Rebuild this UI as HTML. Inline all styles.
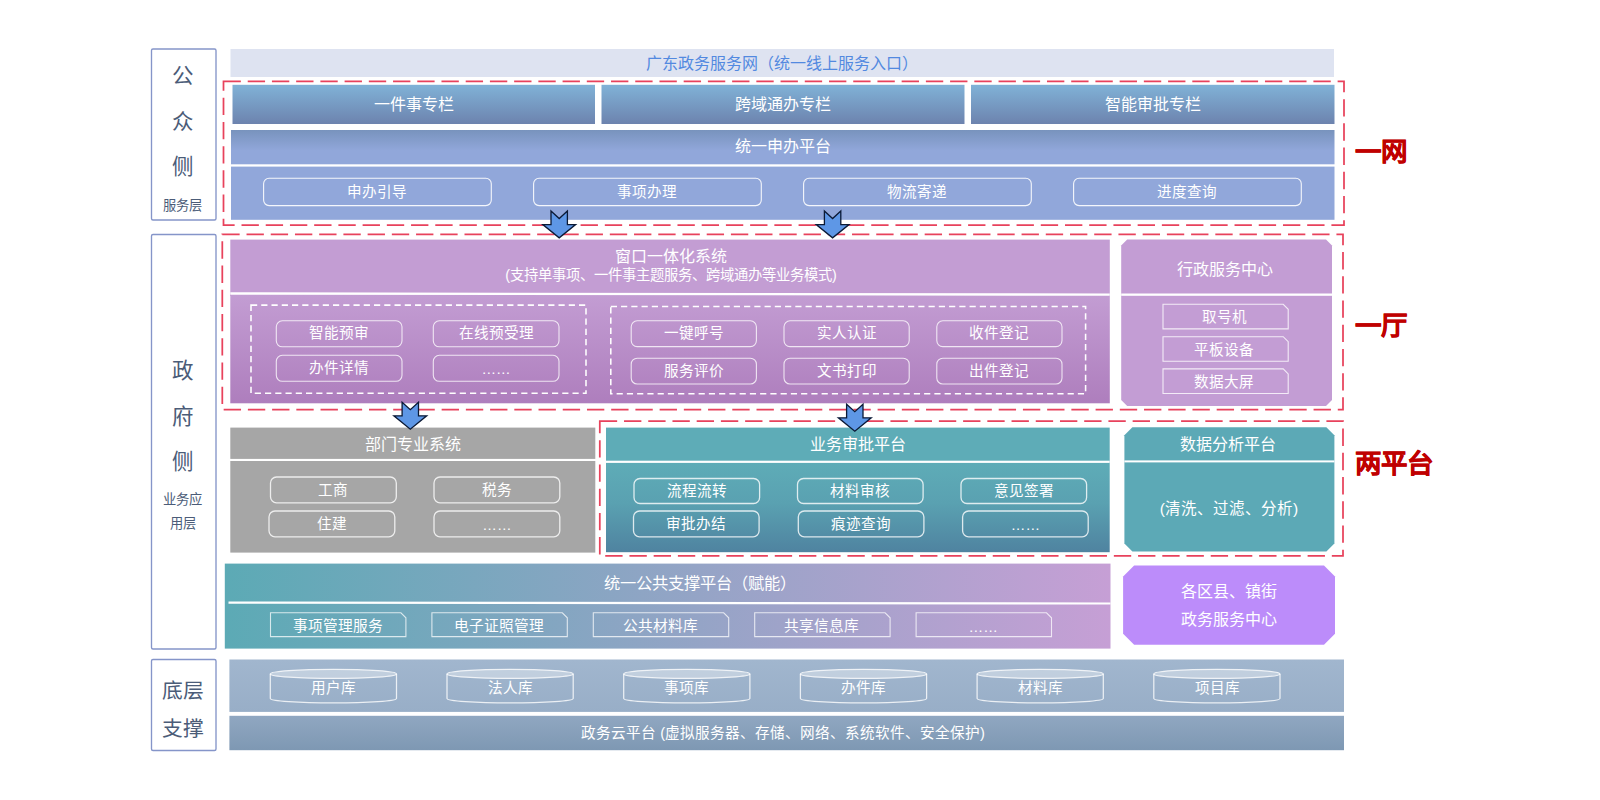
<!DOCTYPE html>
<html lang="zh-CN"><head><meta charset="utf-8"><title>架构图</title>
<style>
html,body{margin:0;padding:0;background:#fff;}
body{width:1600px;height:800px;position:relative;overflow:hidden;font-family:"Liberation Sans",sans-serif;}
.t{position:absolute;white-space:nowrap;}
</style></head><body>
<svg width="1600" height="800" viewBox="0 0 1600 800" style="position:absolute;left:0;top:0">
<defs>
<linearGradient id="gTop" x1="0" y1="0" x2="0" y2="1"><stop offset="0" stop-color="#80B2D7"/><stop offset="1" stop-color="#6D83AE"/></linearGradient>
<linearGradient id="gBar2" x1="0" y1="0" x2="0" y2="1"><stop offset="0" stop-color="#7893BD"/><stop offset="0.6" stop-color="#91A7DA"/><stop offset="1" stop-color="#91A7DA"/></linearGradient>
<linearGradient id="gPur" x1="0" y1="0" x2="0" y2="1"><stop offset="0" stop-color="#C39DD3"/><stop offset="1" stop-color="#AE7EBD"/></linearGradient>
<linearGradient id="gTeal" x1="0" y1="0" x2="0" y2="1"><stop offset="0" stop-color="#5EACB7"/><stop offset="0.45" stop-color="#5AA1B1"/><stop offset="1" stop-color="#4F83A0"/></linearGradient>
<linearGradient id="gSup" x1="0" y1="0" x2="1" y2="0"><stop offset="0" stop-color="#5CAAB5"/><stop offset="1" stop-color="#C69FD5"/></linearGradient>
<linearGradient id="gB1" x1="0" y1="0" x2="0" y2="1"><stop offset="0" stop-color="#A1B6CE"/><stop offset="1" stop-color="#98AEC7"/></linearGradient>
<linearGradient id="gB2" x1="0" y1="0" x2="0" y2="1"><stop offset="0" stop-color="#90A7C1"/><stop offset="1" stop-color="#7E98B3"/></linearGradient>
</defs>
<rect x="151.5" y="49" width="64.5" height="171" rx="1.5" fill="#fff" stroke="#8595C9" stroke-width="1.35"/>
<rect x="151.5" y="234.5" width="64.5" height="414.5" rx="1.5" fill="#fff" stroke="#8595C9" stroke-width="1.35"/>
<rect x="151.5" y="659.5" width="64.5" height="91.0" rx="1.5" fill="#fff" stroke="#8595C9" stroke-width="1.35"/>
<rect x="230.5" y="49" width="1103.5" height="28" fill="#DEE3F1"/>
<rect x="232.5" y="84.8" width="362.5" height="39.2" fill="url(#gTop)"/>
<rect x="601.5" y="84.8" width="363.0" height="39.2" fill="url(#gTop)"/>
<rect x="971" y="84.8" width="363.5" height="39.2" fill="url(#gTop)"/>
<rect x="231" y="130" width="1103.5" height="34.30000000000001" fill="url(#gBar2)"/>
<rect x="231" y="166.6" width="1103.5" height="53.20000000000002" fill="#91A7DA"/>
<rect x="263.6" y="178.2" width="227.7" height="27.400000000000006" rx="5.5" ry="5.5" fill="none" stroke="#fff" stroke-width="1.1" stroke-opacity="0.9"/>
<rect x="533.6" y="178.2" width="227.69999999999993" height="27.400000000000006" rx="5.5" ry="5.5" fill="none" stroke="#fff" stroke-width="1.1" stroke-opacity="0.9"/>
<rect x="803.6" y="178.2" width="227.69999999999993" height="27.400000000000006" rx="5.5" ry="5.5" fill="none" stroke="#fff" stroke-width="1.1" stroke-opacity="0.9"/>
<rect x="1073.6" y="178.2" width="227.70000000000005" height="27.400000000000006" rx="5.5" ry="5.5" fill="none" stroke="#fff" stroke-width="1.1" stroke-opacity="0.9"/>
<rect x="230.3" y="239.6" width="879.5" height="56.400000000000006" fill="#C39DD3"/>
<rect x="230.3" y="294" width="879.5" height="109.30000000000001" fill="url(#gPur)"/>
<polygon points="230.3,292.3 1109.8,293.4 1109.8,295.8 230.3,294.7" fill="#fff"/>
<rect x="251" y="305.1" width="335" height="88.19999999999999" fill="none" stroke="#fff" stroke-width="1.55" stroke-dasharray="6.2 4.05" stroke-dashoffset="0"/>
<rect x="610.8" y="306.4" width="474.79999999999995" height="87.40000000000003" fill="none" stroke="#fff" stroke-width="1.55" stroke-dasharray="6.2 4.05" stroke-dashoffset="0"/>
<rect x="276.3" y="320.8" width="125.69999999999999" height="26.0" rx="6" ry="6" fill="none" stroke="#fff" stroke-width="1.1" stroke-opacity="0.78"/>
<rect x="433.3" y="320.8" width="125.69999999999999" height="26.0" rx="6" ry="6" fill="none" stroke="#fff" stroke-width="1.1" stroke-opacity="0.78"/>
<rect x="276.3" y="355.3" width="125.69999999999999" height="26.0" rx="6" ry="6" fill="none" stroke="#fff" stroke-width="1.1" stroke-opacity="0.78"/>
<rect x="433.3" y="355.3" width="125.69999999999999" height="26.0" rx="6" ry="6" fill="none" stroke="#fff" stroke-width="1.1" stroke-opacity="0.78"/>
<rect x="631.2" y="320.8" width="125.20000000000005" height="25.80000000000001" rx="6" ry="6" fill="none" stroke="#fff" stroke-width="1.1" stroke-opacity="0.78"/>
<rect x="784.0" y="320.8" width="125.20000000000005" height="25.80000000000001" rx="6" ry="6" fill="none" stroke="#fff" stroke-width="1.1" stroke-opacity="0.78"/>
<rect x="936.8000000000001" y="320.8" width="125.19999999999993" height="25.80000000000001" rx="6" ry="6" fill="none" stroke="#fff" stroke-width="1.1" stroke-opacity="0.78"/>
<rect x="631.2" y="358.2" width="125.20000000000005" height="25.80000000000001" rx="6" ry="6" fill="none" stroke="#fff" stroke-width="1.1" stroke-opacity="0.78"/>
<rect x="784.0" y="358.2" width="125.20000000000005" height="25.80000000000001" rx="6" ry="6" fill="none" stroke="#fff" stroke-width="1.1" stroke-opacity="0.78"/>
<rect x="936.8000000000001" y="358.2" width="125.19999999999993" height="25.80000000000001" rx="6" ry="6" fill="none" stroke="#fff" stroke-width="1.1" stroke-opacity="0.78"/>
<polygon points="1127.2,239.6 1326,239.6 1332,245.6 1332,400.1 1326,406.1 1127.2,406.1 1121.2,400.1 1121.2,245.6" fill="#C39DD4"/>
<rect x="1121.2" y="293.5" width="210.79999999999995" height="2.3000000000000114" fill="#fff"/>
<polygon points="1163,304.3 1283.2,304.3 1288.2,309.3 1288.2,328.90000000000003 1163,328.90000000000003" fill="none" stroke="#fff" stroke-width="1.1" stroke-opacity="0.8"/>
<polygon points="1163,336.7 1283.2,336.7 1288.2,341.7 1288.2,361.3 1163,361.3" fill="none" stroke="#fff" stroke-width="1.1" stroke-opacity="0.8"/>
<polygon points="1163,368.9 1283.2,368.9 1288.2,373.9 1288.2,393.5 1163,393.5" fill="none" stroke="#fff" stroke-width="1.1" stroke-opacity="0.8"/>
<rect x="230.3" y="427.6" width="364.99999999999994" height="31.299999999999955" fill="#A6A6A6"/>
<rect x="230.3" y="461" width="364.99999999999994" height="91.60000000000002" fill="#A6A6A6"/>
<rect x="270.5" y="477" width="125.80000000000001" height="25.80000000000001" rx="6" ry="6" fill="none" stroke="#fff" stroke-width="1.3" stroke-opacity="0.8"/>
<rect x="434" y="477" width="125.79999999999995" height="25.80000000000001" rx="6" ry="6" fill="none" stroke="#fff" stroke-width="1.3" stroke-opacity="0.8"/>
<rect x="269" y="511" width="125.80000000000001" height="25.799999999999955" rx="6" ry="6" fill="none" stroke="#fff" stroke-width="1.3" stroke-opacity="0.8"/>
<rect x="434" y="511" width="125.79999999999995" height="25.799999999999955" rx="6" ry="6" fill="none" stroke="#fff" stroke-width="1.3" stroke-opacity="0.8"/>
<rect x="606" y="427.6" width="503.70000000000005" height="35.39999999999998" fill="#5EACB7"/>
<rect x="606" y="462.9" width="503.70000000000005" height="89.30000000000007" fill="url(#gTeal)"/>
<rect x="606" y="460.7" width="503.70000000000005" height="2.1999999999999886" fill="#fff"/>
<rect x="634.0" y="478.5" width="125.60000000000002" height="25.0" rx="6" ry="6" fill="none" stroke="#fff" stroke-width="1.3" stroke-opacity="0.8"/>
<rect x="797.5" y="478.5" width="125.60000000000002" height="25.0" rx="6" ry="6" fill="none" stroke="#fff" stroke-width="1.3" stroke-opacity="0.8"/>
<rect x="961.0" y="478.5" width="125.59999999999991" height="25.0" rx="6" ry="6" fill="none" stroke="#fff" stroke-width="1.3" stroke-opacity="0.8"/>
<rect x="633.5" y="511" width="125.60000000000002" height="25.799999999999955" rx="6" ry="6" fill="none" stroke="#fff" stroke-width="1.3" stroke-opacity="0.8"/>
<rect x="798.3" y="511" width="125.60000000000002" height="25.799999999999955" rx="6" ry="6" fill="none" stroke="#fff" stroke-width="1.3" stroke-opacity="0.8"/>
<rect x="962.6" y="511" width="125.60000000000002" height="25.799999999999955" rx="6" ry="6" fill="none" stroke="#fff" stroke-width="1.3" stroke-opacity="0.8"/>
<polygon points="1132.4,427.3 1326.4,427.3 1334.4,435.3 1334.4,543.6 1326.4,551.6 1132.4,551.6 1124.4,543.6 1124.4,435.3" fill="#5CA9B6"/>
<rect x="1124.4" y="460.4" width="210.0" height="2.0" fill="#fff"/>
<rect x="224.8" y="563.6" width="885.7" height="85.0" fill="url(#gSup)"/>
<polygon points="228.5,601.6 1110.5,602.4 1110.5,604.5 228.5,603.7" fill="#fff"/>
<polygon points="270.5,612.8 400.9,612.8 405.9,617.8 405.9,636.6 270.5,636.6" fill="none" stroke="#fff" stroke-width="1.1" stroke-opacity="0.75"/>
<polygon points="431.9,612.8 562.3,612.8 567.3,617.8 567.3,636.6 431.9,636.6" fill="none" stroke="#fff" stroke-width="1.1" stroke-opacity="0.75"/>
<polygon points="593.3,612.8 723.6999999999999,612.8 728.6999999999999,617.8 728.6999999999999,636.6 593.3,636.6" fill="none" stroke="#fff" stroke-width="1.1" stroke-opacity="0.75"/>
<polygon points="754.7,612.8 885.1,612.8 890.1,617.8 890.1,636.6 754.7,636.6" fill="none" stroke="#fff" stroke-width="1.1" stroke-opacity="0.75"/>
<polygon points="916.1,612.8 1046.5,612.8 1051.5,617.8 1051.5,636.6 916.1,636.6" fill="none" stroke="#fff" stroke-width="1.1" stroke-opacity="0.75"/>
<polygon points="1134.1,565.6 1324,565.6 1335,576.6 1335,633.7 1324,644.7 1134.1,644.7 1123.1,633.7 1123.1,576.6" fill="#BC8CFA"/>
<rect x="229.4" y="659.5" width="1114.6" height="52.39999999999998" fill="url(#gB1)"/>
<rect x="229.4" y="715.8" width="1114.6" height="34.40000000000009" fill="url(#gB2)"/>
<ellipse cx="333.4" cy="673.9" rx="63.099999999999994" ry="4.5" fill="#fff" fill-opacity="0.36" stroke="#fff" stroke-opacity="0.8" stroke-width="1.25"/>
<path d="M270.3,673.9 V698.4 A63.099999999999994,4.5 0 0 0 396.5,698.4 V673.9" fill="none" stroke="#fff" stroke-opacity="0.8" stroke-width="1.25"/>
<ellipse cx="510.1" cy="673.9" rx="63.10000000000002" ry="4.5" fill="#fff" fill-opacity="0.36" stroke="#fff" stroke-opacity="0.8" stroke-width="1.25"/>
<path d="M447.0,673.9 V698.4 A63.10000000000002,4.5 0 0 0 573.2,698.4 V673.9" fill="none" stroke="#fff" stroke-opacity="0.8" stroke-width="1.25"/>
<ellipse cx="686.8000000000001" cy="673.9" rx="63.10000000000002" ry="4.5" fill="#fff" fill-opacity="0.36" stroke="#fff" stroke-opacity="0.8" stroke-width="1.25"/>
<path d="M623.7,673.9 V698.4 A63.10000000000002,4.5 0 0 0 749.9000000000001,698.4 V673.9" fill="none" stroke="#fff" stroke-opacity="0.8" stroke-width="1.25"/>
<ellipse cx="863.4999999999999" cy="673.9" rx="63.10000000000002" ry="4.5" fill="#fff" fill-opacity="0.36" stroke="#fff" stroke-opacity="0.8" stroke-width="1.25"/>
<path d="M800.3999999999999,673.9 V698.4 A63.10000000000002,4.5 0 0 0 926.5999999999999,698.4 V673.9" fill="none" stroke="#fff" stroke-opacity="0.8" stroke-width="1.25"/>
<ellipse cx="1040.1999999999998" cy="673.9" rx="63.10000000000002" ry="4.5" fill="#fff" fill-opacity="0.36" stroke="#fff" stroke-opacity="0.8" stroke-width="1.25"/>
<path d="M977.0999999999999,673.9 V698.4 A63.10000000000002,4.5 0 0 0 1103.3,698.4 V673.9" fill="none" stroke="#fff" stroke-opacity="0.8" stroke-width="1.25"/>
<ellipse cx="1216.9" cy="673.9" rx="63.10000000000002" ry="4.5" fill="#fff" fill-opacity="0.36" stroke="#fff" stroke-opacity="0.8" stroke-width="1.25"/>
<path d="M1153.8,673.9 V698.4 A63.10000000000002,4.5 0 0 0 1280.0,698.4 V673.9" fill="none" stroke="#fff" stroke-opacity="0.8" stroke-width="1.25"/>
<rect x="223.5" y="81.3" width="1120.5" height="143.7" fill="none" stroke="#E8425C" stroke-width="1.75" stroke-dasharray="17.35 6.87" stroke-dashoffset="0"/>
<rect x="222.3" y="234.4" width="1120.7" height="175.1" fill="none" stroke="#E8425C" stroke-width="1.75" stroke-dasharray="17.35 6.87" stroke-dashoffset="0"/>
<rect x="599.8" y="421" width="743.2" height="134.89999999999998" fill="none" stroke="#E8425C" stroke-width="1.75" stroke-dasharray="17.35 6.87" stroke-dashoffset="0"/>
<polygon points="551.0,211.0 559.2,218.5 567.4,211.0 567.4,224.6 575.6,224.6 559.2,237.8 542.8,224.6 551.0,224.6" fill="#5E97E6" stroke="#0B1A36" stroke-width="1.3" stroke-linejoin="miter"/>
<polygon points="824.4,211.0 832.6,218.5 840.8,211.0 840.8,224.6 849.0,224.6 832.6,237.8 816.2,224.6 824.4,224.6" fill="#5E97E6" stroke="#0B1A36" stroke-width="1.3" stroke-linejoin="miter"/>
<polygon points="402.1,402.2 410.3,409.7 418.5,402.2 418.5,415.8 426.7,415.8 410.3,429.2 393.9,415.8 402.1,415.8" fill="#5E97E6" stroke="#0B1A36" stroke-width="1.3" stroke-linejoin="miter"/>
<polygon points="846.6,404.2 854.8,411.7 863.0,404.2 863.0,417.8 871.2,417.8 854.8,431.2 838.4,417.8 846.6,417.8" fill="#5E97E6" stroke="#0B1A36" stroke-width="1.3" stroke-linejoin="miter"/>
</svg>
<div class="t" style="left:481.5px;width:600px;text-align:center;top:47.8px;height:32px;line-height:32px;font-size:16px;color:#5289E0;font-weight:400;letter-spacing:0px;">广东政务服务网（统一线上服务入口）</div>
<div class="t" style="left:113.8px;width:600px;text-align:center;top:88.5px;height:32px;line-height:32px;font-size:16px;color:#fff;font-weight:400;letter-spacing:0px;">一件事专栏</div>
<div class="t" style="left:483.0px;width:600px;text-align:center;top:88.5px;height:32px;line-height:32px;font-size:16px;color:#fff;font-weight:400;letter-spacing:0px;">跨域通办专栏</div>
<div class="t" style="left:852.8px;width:600px;text-align:center;top:88.5px;height:32px;line-height:32px;font-size:16px;color:#fff;font-weight:400;letter-spacing:0px;">智能审批专栏</div>
<div class="t" style="left:483.0px;width:600px;text-align:center;top:131.0px;height:32px;line-height:32px;font-size:16px;color:#fff;font-weight:400;letter-spacing:0px;">统一申办平台</div>
<div class="t" style="left:77.4px;width:600px;text-align:center;top:178.4px;height:29.2px;line-height:29.2px;font-size:14.6px;color:#fff;font-weight:400;letter-spacing:0px;">申办引导</div>
<div class="t" style="left:347.4px;width:600px;text-align:center;top:178.4px;height:29.2px;line-height:29.2px;font-size:14.6px;color:#fff;font-weight:400;letter-spacing:0px;">事项办理</div>
<div class="t" style="left:617.4px;width:600px;text-align:center;top:178.4px;height:29.2px;line-height:29.2px;font-size:14.6px;color:#fff;font-weight:400;letter-spacing:0px;">物流寄递</div>
<div class="t" style="left:887.4px;width:600px;text-align:center;top:178.4px;height:29.2px;line-height:29.2px;font-size:14.6px;color:#fff;font-weight:400;letter-spacing:0px;">进度查询</div>
<div class="t" style="left:370.5px;width:600px;text-align:center;top:240.8px;height:32px;line-height:32px;font-size:16px;color:#fff;font-weight:400;letter-spacing:0px;">窗口一体化系统</div>
<div class="t" style="left:371.0px;width:600px;text-align:center;top:261.1px;height:28.6px;line-height:28.6px;font-size:14.3px;color:#fff;font-weight:400;letter-spacing:0px;">(支持单事项、一件事主题服务、跨域通办等业务模式)</div>
<div class="t" style="left:39.1px;width:600px;text-align:center;top:319.2px;height:29.2px;line-height:29.2px;font-size:14.6px;color:#fff;font-weight:400;letter-spacing:0px;">智能预审</div>
<div class="t" style="left:196.1px;width:600px;text-align:center;top:319.2px;height:29.2px;line-height:29.2px;font-size:14.6px;color:#fff;font-weight:400;letter-spacing:0px;">在线预受理</div>
<div class="t" style="left:39.1px;width:600px;text-align:center;top:353.7px;height:29.2px;line-height:29.2px;font-size:14.6px;color:#fff;font-weight:400;letter-spacing:0px;">办件详情</div>
<div class="t" style="left:196.1px;width:600px;text-align:center;top:355.0px;height:29.2px;line-height:29.2px;font-size:14.6px;color:#fff;font-weight:400;letter-spacing:0px;">……</div>
<div class="t" style="left:393.8px;width:600px;text-align:center;top:319.2px;height:29.2px;line-height:29.2px;font-size:14.6px;color:#fff;font-weight:400;letter-spacing:0px;">一键呼号</div>
<div class="t" style="left:546.6px;width:600px;text-align:center;top:319.2px;height:29.2px;line-height:29.2px;font-size:14.6px;color:#fff;font-weight:400;letter-spacing:0px;">实人认证</div>
<div class="t" style="left:699.4px;width:600px;text-align:center;top:319.2px;height:29.2px;line-height:29.2px;font-size:14.6px;color:#fff;font-weight:400;letter-spacing:0px;">收件登记</div>
<div class="t" style="left:393.8px;width:600px;text-align:center;top:356.6px;height:29.2px;line-height:29.2px;font-size:14.6px;color:#fff;font-weight:400;letter-spacing:0px;">服务评价</div>
<div class="t" style="left:546.6px;width:600px;text-align:center;top:356.6px;height:29.2px;line-height:29.2px;font-size:14.6px;color:#fff;font-weight:400;letter-spacing:0px;">文书打印</div>
<div class="t" style="left:699.4px;width:600px;text-align:center;top:356.6px;height:29.2px;line-height:29.2px;font-size:14.6px;color:#fff;font-weight:400;letter-spacing:0px;">出件登记</div>
<div class="t" style="left:924.6px;width:600px;text-align:center;top:254.4px;height:32px;line-height:32px;font-size:16px;color:#fff;font-weight:400;letter-spacing:0px;">行政服务中心</div>
<div class="t" style="left:924.2px;width:600px;text-align:center;top:303.4px;height:29.2px;line-height:29.2px;font-size:14.6px;color:#fff;font-weight:400;letter-spacing:0px;">取号机</div>
<div class="t" style="left:924.2px;width:600px;text-align:center;top:335.8px;height:29.2px;line-height:29.2px;font-size:14.6px;color:#fff;font-weight:400;letter-spacing:0px;">平板设备</div>
<div class="t" style="left:924.2px;width:600px;text-align:center;top:368.0px;height:29.2px;line-height:29.2px;font-size:14.6px;color:#fff;font-weight:400;letter-spacing:0px;">数据大屏</div>
<div class="t" style="left:113.0px;width:600px;text-align:center;top:428.8px;height:32px;line-height:32px;font-size:16px;color:#fff;font-weight:400;letter-spacing:0px;">部门专业系统</div>
<div class="t" style="left:33.4px;width:600px;text-align:center;top:476.0px;height:29.2px;line-height:29.2px;font-size:14.6px;color:#fff;font-weight:400;letter-spacing:0px;">工商</div>
<div class="t" style="left:196.9px;width:600px;text-align:center;top:476.0px;height:29.2px;line-height:29.2px;font-size:14.6px;color:#fff;font-weight:400;letter-spacing:0px;">税务</div>
<div class="t" style="left:31.9px;width:600px;text-align:center;top:510.0px;height:29.2px;line-height:29.2px;font-size:14.6px;color:#fff;font-weight:400;letter-spacing:0px;">住建</div>
<div class="t" style="left:196.9px;width:600px;text-align:center;top:511.3px;height:29.2px;line-height:29.2px;font-size:14.6px;color:#fff;font-weight:400;letter-spacing:0px;">……</div>
<div class="t" style="left:558.0px;width:600px;text-align:center;top:428.9px;height:32px;line-height:32px;font-size:16px;color:#fff;font-weight:400;letter-spacing:0px;">业务审批平台</div>
<div class="t" style="left:396.8px;width:600px;text-align:center;top:477.0px;height:29.2px;line-height:29.2px;font-size:14.6px;color:#fff;font-weight:400;letter-spacing:0px;">流程流转</div>
<div class="t" style="left:560.3px;width:600px;text-align:center;top:477.0px;height:29.2px;line-height:29.2px;font-size:14.6px;color:#fff;font-weight:400;letter-spacing:0px;">材料审核</div>
<div class="t" style="left:723.8px;width:600px;text-align:center;top:477.0px;height:29.2px;line-height:29.2px;font-size:14.6px;color:#fff;font-weight:400;letter-spacing:0px;">意见签署</div>
<div class="t" style="left:396.3px;width:600px;text-align:center;top:509.5px;height:29.2px;line-height:29.2px;font-size:14.6px;color:#fff;font-weight:400;letter-spacing:0px;">审批办结</div>
<div class="t" style="left:561.1px;width:600px;text-align:center;top:509.5px;height:29.2px;line-height:29.2px;font-size:14.6px;color:#fff;font-weight:400;letter-spacing:0px;">痕迹查询</div>
<div class="t" style="left:725.4px;width:600px;text-align:center;top:510.8px;height:29.2px;line-height:29.2px;font-size:14.6px;color:#fff;font-weight:400;letter-spacing:0px;">……</div>
<div class="t" style="left:928.0px;width:600px;text-align:center;top:428.5px;height:32px;line-height:32px;font-size:16px;color:#fff;font-weight:400;letter-spacing:0px;">数据分析平台</div>
<div class="t" style="left:929.0px;width:600px;text-align:center;top:493.0px;height:31.0px;line-height:31.0px;font-size:15.5px;color:#fff;font-weight:400;letter-spacing:0px;">(清洗、过滤、分析)</div>
<div class="t" style="left:399.5px;width:600px;text-align:center;top:567.1px;height:32.6px;line-height:32.6px;font-size:16.3px;color:#fff;font-weight:400;letter-spacing:0px;">统一公共支撑平台（赋能）</div>
<div class="t" style="left:37.7px;width:600px;text-align:center;top:611.5px;height:29.4px;line-height:29.4px;font-size:14.7px;color:#fff;font-weight:400;letter-spacing:0px;">事项管理服务</div>
<div class="t" style="left:199.1px;width:600px;text-align:center;top:611.5px;height:29.4px;line-height:29.4px;font-size:14.7px;color:#fff;font-weight:400;letter-spacing:0px;">电子证照管理</div>
<div class="t" style="left:360.5px;width:600px;text-align:center;top:611.5px;height:29.4px;line-height:29.4px;font-size:14.7px;color:#fff;font-weight:400;letter-spacing:0px;">公共材料库</div>
<div class="t" style="left:521.9px;width:600px;text-align:center;top:611.5px;height:29.4px;line-height:29.4px;font-size:14.7px;color:#fff;font-weight:400;letter-spacing:0px;">共享信息库</div>
<div class="t" style="left:683.3px;width:600px;text-align:center;top:612.8px;height:29.4px;line-height:29.4px;font-size:14.7px;color:#fff;font-weight:400;letter-spacing:0px;">……</div>
<div class="t" style="left:929.0px;width:600px;text-align:center;top:575.5px;height:32px;line-height:32px;font-size:16px;color:#fff;font-weight:400;letter-spacing:0px;">各区县、镇街</div>
<div class="t" style="left:929.0px;width:600px;text-align:center;top:603.5px;height:32px;line-height:32px;font-size:16px;color:#fff;font-weight:400;letter-spacing:0px;">政务服务中心</div>
<div class="t" style="left:33.5px;width:600px;text-align:center;top:673.9px;height:29.2px;line-height:29.2px;font-size:14.6px;color:#fff;font-weight:400;letter-spacing:0px;">用户库</div>
<div class="t" style="left:210.2px;width:600px;text-align:center;top:673.9px;height:29.2px;line-height:29.2px;font-size:14.6px;color:#fff;font-weight:400;letter-spacing:0px;">法人库</div>
<div class="t" style="left:386.9px;width:600px;text-align:center;top:673.9px;height:29.2px;line-height:29.2px;font-size:14.6px;color:#fff;font-weight:400;letter-spacing:0px;">事项库</div>
<div class="t" style="left:563.6px;width:600px;text-align:center;top:673.9px;height:29.2px;line-height:29.2px;font-size:14.6px;color:#fff;font-weight:400;letter-spacing:0px;">办件库</div>
<div class="t" style="left:740.3px;width:600px;text-align:center;top:673.9px;height:29.2px;line-height:29.2px;font-size:14.6px;color:#fff;font-weight:400;letter-spacing:0px;">材料库</div>
<div class="t" style="left:917.0px;width:600px;text-align:center;top:673.9px;height:29.2px;line-height:29.2px;font-size:14.6px;color:#fff;font-weight:400;letter-spacing:0px;">项目库</div>
<div class="t" style="left:483.0px;width:600px;text-align:center;top:718.9px;height:29.2px;line-height:29.2px;font-size:14.6px;color:#fff;font-weight:400;letter-spacing:0px;">政务云平台 (虚拟服务器、存储、网络、系统软件、安全保护)</div>
<div class="t" style="left:-117.3px;width:600px;text-align:center;top:54.5px;height:43.0px;line-height:43.0px;font-size:21.5px;color:#4B5C78;font-weight:400;letter-spacing:0px;">公</div>
<div class="t" style="left:-117.3px;width:600px;text-align:center;top:100.5px;height:43.0px;line-height:43.0px;font-size:21.5px;color:#4B5C78;font-weight:400;letter-spacing:0px;">众</div>
<div class="t" style="left:-117.3px;width:600px;text-align:center;top:146.0px;height:43.0px;line-height:43.0px;font-size:21.5px;color:#4B5C78;font-weight:400;letter-spacing:0px;">侧</div>
<div class="t" style="left:-117.3px;width:600px;text-align:center;top:193.3px;height:26.6px;line-height:26.6px;font-size:13.3px;color:#4B5C78;font-weight:400;letter-spacing:0px;">服务层</div>
<div class="t" style="left:-117.3px;width:600px;text-align:center;top:349.5px;height:43.0px;line-height:43.0px;font-size:21.5px;color:#4B5C78;font-weight:400;letter-spacing:0px;">政</div>
<div class="t" style="left:-117.3px;width:600px;text-align:center;top:395.5px;height:43.0px;line-height:43.0px;font-size:21.5px;color:#4B5C78;font-weight:400;letter-spacing:0px;">府</div>
<div class="t" style="left:-117.3px;width:600px;text-align:center;top:441.1px;height:43.0px;line-height:43.0px;font-size:21.5px;color:#4B5C78;font-weight:400;letter-spacing:0px;">侧</div>
<div class="t" style="left:-117.3px;width:600px;text-align:center;top:486.7px;height:26.6px;line-height:26.6px;font-size:13.3px;color:#4B5C78;font-weight:400;letter-spacing:0px;">业务应</div>
<div class="t" style="left:-117.3px;width:600px;text-align:center;top:511.2px;height:26.6px;line-height:26.6px;font-size:13.3px;color:#4B5C78;font-weight:400;letter-spacing:0px;">用层</div>
<div class="t" style="left:-116.8px;width:600px;text-align:center;top:670.4px;height:41.6px;line-height:41.6px;font-size:20.8px;color:#4B5C78;font-weight:400;letter-spacing:0px;">底层</div>
<div class="t" style="left:-116.8px;width:600px;text-align:center;top:707.7px;height:41.6px;line-height:41.6px;font-size:20.8px;color:#4B5C78;font-weight:400;letter-spacing:0px;">支撑</div>
<div class="t" style="left:1354.8px;text-align:left;top:125.5px;height:53.0px;line-height:53.0px;font-size:26.5px;color:#C00000;font-weight:700;letter-spacing:0px;-webkit-text-stroke:0.45px #C00000;">一网</div>
<div class="t" style="left:1354.8px;text-align:left;top:300.0px;height:53.0px;line-height:53.0px;font-size:26.5px;color:#C00000;font-weight:700;letter-spacing:0px;-webkit-text-stroke:0.45px #C00000;">一厅</div>
<div class="t" style="left:1354.8px;text-align:left;top:438.0px;height:53.0px;line-height:53.0px;font-size:26.5px;color:#C00000;font-weight:700;letter-spacing:0px;-webkit-text-stroke:0.45px #C00000;">两平台</div>
</body></html>
